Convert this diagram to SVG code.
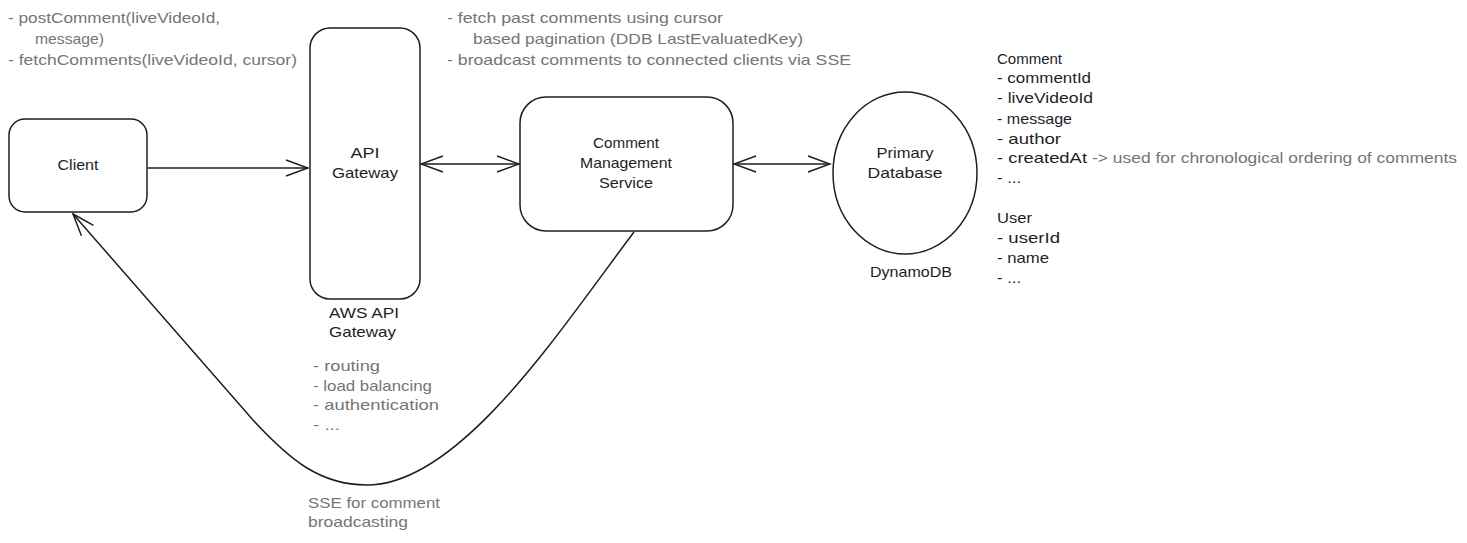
<svg xmlns="http://www.w3.org/2000/svg" width="1467" height="543" viewBox="0 0 1467 543">
<style>
.shape{fill:none;stroke:#1e1e1e;stroke-width:1.5}
.conn{fill:none;stroke:#1e1e1e;stroke-width:1.5}
text{font-family:"Liberation Sans",Arial,sans-serif;font-size:15px}
.lbl{fill:#1e1e1e;text-anchor:middle}
.blk{fill:#1e1e1e}
.gry{fill:#757575}
</style>
<defs>
<marker id="arr" markerUnits="userSpaceOnUse" viewBox="-24 -10 26 20" refX="0" refY="0" markerWidth="26" markerHeight="20" orient="auto-start-reverse">
<path d="M -22 -8 L 0 0 L -22 8" fill="none" stroke="#1e1e1e" stroke-width="1.5"/>
</marker>
</defs>
<rect width="1467" height="543" fill="#ffffff"/>

<g id="notes-top-left">
<text class="gry" x="8" y="23" textLength="212" lengthAdjust="spacingAndGlyphs">- postComment(liveVideoId,</text>
<text class="gry" x="35" y="44" textLength="69" lengthAdjust="spacingAndGlyphs">message)</text>
<text class="gry" x="8" y="65" textLength="289" lengthAdjust="spacingAndGlyphs">- fetchComments(liveVideoId, cursor)</text>
</g>

<g id="notes-top-mid">
<text class="gry" x="447" y="23" textLength="276" lengthAdjust="spacingAndGlyphs">- fetch past comments using cursor</text>
<text class="gry" x="473" y="44" textLength="330" lengthAdjust="spacingAndGlyphs">based pagination (DDB LastEvaluatedKey)</text>
<text class="gry" x="447" y="65" textLength="404" lengthAdjust="spacingAndGlyphs">- broadcast comments to connected clients via SSE</text>
</g>

<g id="client">
<rect class="shape" x="9" y="119" width="138" height="93" rx="16"/>
<text class="lbl" x="78" y="170" textLength="41" lengthAdjust="spacingAndGlyphs">Client</text>
</g>

<g id="api-gateway">
<rect class="shape" x="310" y="28" width="110" height="271" rx="20"/>
<text class="lbl" x="365" y="158" textLength="29" lengthAdjust="spacingAndGlyphs">API</text>
<text class="lbl" x="365" y="178" textLength="66" lengthAdjust="spacingAndGlyphs">Gateway</text>
<text class="blk" x="329" y="318" textLength="70" lengthAdjust="spacingAndGlyphs">AWS API</text>
<text class="blk" x="329" y="337" textLength="67" lengthAdjust="spacingAndGlyphs">Gateway</text>
<text class="gry" x="313" y="371" textLength="67" lengthAdjust="spacingAndGlyphs">- routing</text>
<text class="gry" x="313" y="391" textLength="119" lengthAdjust="spacingAndGlyphs">- load balancing</text>
<text class="gry" x="313" y="410" textLength="126" lengthAdjust="spacingAndGlyphs">- authentication</text>
<text class="gry" x="313" y="430" textLength="27" lengthAdjust="spacingAndGlyphs">- ...</text>
</g>

<g id="comment-service">
<rect class="shape" x="520" y="97" width="213" height="134" rx="26"/>
<text class="lbl" x="626" y="148" textLength="66" lengthAdjust="spacingAndGlyphs">Comment</text>
<text class="lbl" x="626" y="168" textLength="92" lengthAdjust="spacingAndGlyphs">Management</text>
<text class="lbl" x="626" y="188" textLength="54" lengthAdjust="spacingAndGlyphs">Service</text>
</g>

<g id="primary-db">
<ellipse class="shape" cx="905" cy="173" rx="72" ry="81"/>
<text class="lbl" x="905" y="158" textLength="57" lengthAdjust="spacingAndGlyphs">Primary</text>
<text class="lbl" x="905" y="178" textLength="75" lengthAdjust="spacingAndGlyphs">Database</text>
<text class="lbl" x="911" y="277" textLength="82" lengthAdjust="spacingAndGlyphs">DynamoDB</text>
</g>

<g id="schema">
<text class="blk" x="997" y="64" textLength="65" lengthAdjust="spacingAndGlyphs">Comment</text>
<text class="blk" x="997" y="83" textLength="94" lengthAdjust="spacingAndGlyphs">- commentId</text>
<text class="blk" x="997" y="103" textLength="96" lengthAdjust="spacingAndGlyphs">- liveVideoId</text>
<text class="blk" x="997" y="124" textLength="75" lengthAdjust="spacingAndGlyphs">- message</text>
<text class="blk" x="997" y="144" textLength="64" lengthAdjust="spacingAndGlyphs">- author</text>
<text class="blk" x="997" y="163" textLength="90" lengthAdjust="spacingAndGlyphs">- createdAt</text>
<text class="gry" x="1092" y="163" textLength="365" lengthAdjust="spacingAndGlyphs">-&gt; used for chronological ordering of comments</text>
<text class="blk" x="997" y="183" textLength="24" lengthAdjust="spacingAndGlyphs">- ...</text>
<text class="blk" x="997" y="223" textLength="35" lengthAdjust="spacingAndGlyphs">User</text>
<text class="blk" x="997" y="243" textLength="63" lengthAdjust="spacingAndGlyphs">- userId</text>
<text class="blk" x="997" y="263" textLength="52" lengthAdjust="spacingAndGlyphs">- name</text>
<text class="blk" x="997" y="283" textLength="24" lengthAdjust="spacingAndGlyphs">- ...</text>
</g>

<g id="connectors">
<path class="conn" d="M 148 168 L 308 168" marker-end="url(#arr)"/>
<path class="conn" d="M 421 164 L 519 164" marker-start="url(#arr)" marker-end="url(#arr)"/>
<path class="conn" d="M 734 164 L 830 164" marker-start="url(#arr)" marker-end="url(#arr)"/>
<path class="conn" d="M 634 232 C 560 330 460 485 367 485 C 320 485 290 460 253 420 L 73 214" marker-end="url(#arr)"/>
<text class="gry" x="308" y="508" textLength="132" lengthAdjust="spacingAndGlyphs">SSE for comment</text>
<text class="gry" x="308" y="527" textLength="100" lengthAdjust="spacingAndGlyphs">broadcasting</text>
</g>
</svg>
